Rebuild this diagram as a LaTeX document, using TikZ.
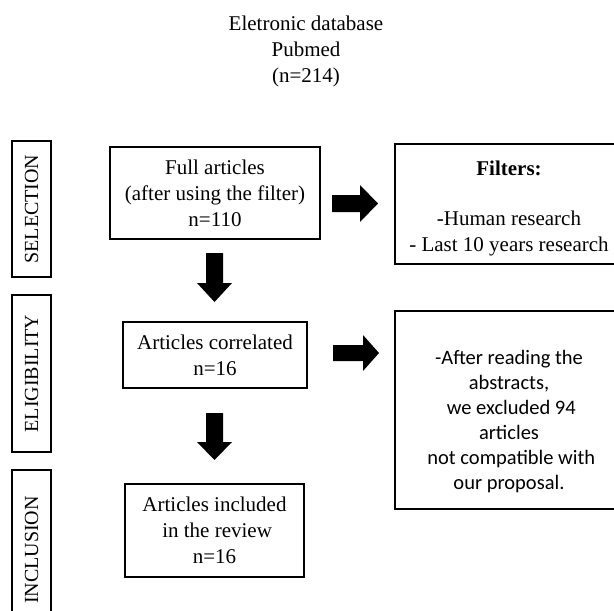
\documentclass[tikz,border=0pt]{standalone}
\usepackage{fontspec}
\setmainfont{Liberation Serif}
\newfontfamily\calib{Carlito}
\begin{document}
\begin{tikzpicture}[x=1pt,y=-1pt,
  box/.style={draw=black, line width=1.1pt, align=center, inner sep=0pt,
    font=\fontsize{21}{26}\selectfont},
  sidebox/.style={draw=black, line width=1.1pt, rotate=90, inner sep=0pt,
    minimum height=39pt, font=\fontsize{20}{24}\selectfont},
  txt/.style={align=center, inner sep=0pt, font=\fontsize{21}{26}\selectfont},
  blockarrow/.style={fill=black}]
\clip (0,0) rectangle (614,611);
\fill[white] (0,0) rectangle (614,611);

% title
\node[txt] (title) at (306,51) {Eletronic database\\Pubmed\\(n=214)};

% side labels
\node[sidebox, minimum width=136pt] (sel) at (31.5,209) {SELECTION};
\node[sidebox, minimum width=157pt] (eli) at (31.5,373.5) {ELIGIBILITY};
\node[sidebox, minimum width=160pt] (inc) at (31.5,550) {INCLUSION};

% main boxes
\node[box, minimum width=210pt, minimum height=92pt] (full) at (215,193)
  {Full articles\\(after using the filter)\\n=110};
\node[box, minimum width=184pt, minimum height=66pt] (corr) at (215,355)
  {Articles correlated\\n=16};
\node[box, minimum width=179pt, minimum height=93pt] (incl) at (214.5,530.5)
  {Articles included\\\ in the review\\n=16};

% right boxes
\node[box, minimum width=228pt, minimum height=120pt] (filt) at (509,204) {};
\node[txt] (filttxt) at (509,208)
  {\textbf{Filters:}\\[24pt]-Human research\\- Last 10 years research};
\node[box, minimum width=228pt, minimum height=198pt] (excl) at (509,410) {};
\node[txt, font=\calib\fontsize{20.5}{25}\selectfont] (excltxt) at (509,422)
  {-After reading the\\abstracts,\\\ we excluded 94\\articles\\\ not compatible with\\our proposal.};

% block arrows
\fill[blockarrow] (332,195) -- (360,195) -- (360,185) -- (378,203.5)
  -- (360,222) -- (360,212) -- (332,212) -- cycle;
\fill[blockarrow] (333,345) -- (363,345) -- (363,335) -- (379,353)
  -- (363,371) -- (363,361) -- (333,361) -- cycle;
\fill[blockarrow] (206,253) -- (223,253) -- (223,283) -- (232,283)
  -- (214.5,302) -- (197,283) -- (206,283) -- cycle;
\fill[blockarrow] (206,413) -- (223,413) -- (223,442) -- (232,442)
  -- (214.5,460) -- (197,442) -- (206,442) -- cycle;
\end{tikzpicture}
\end{document}
